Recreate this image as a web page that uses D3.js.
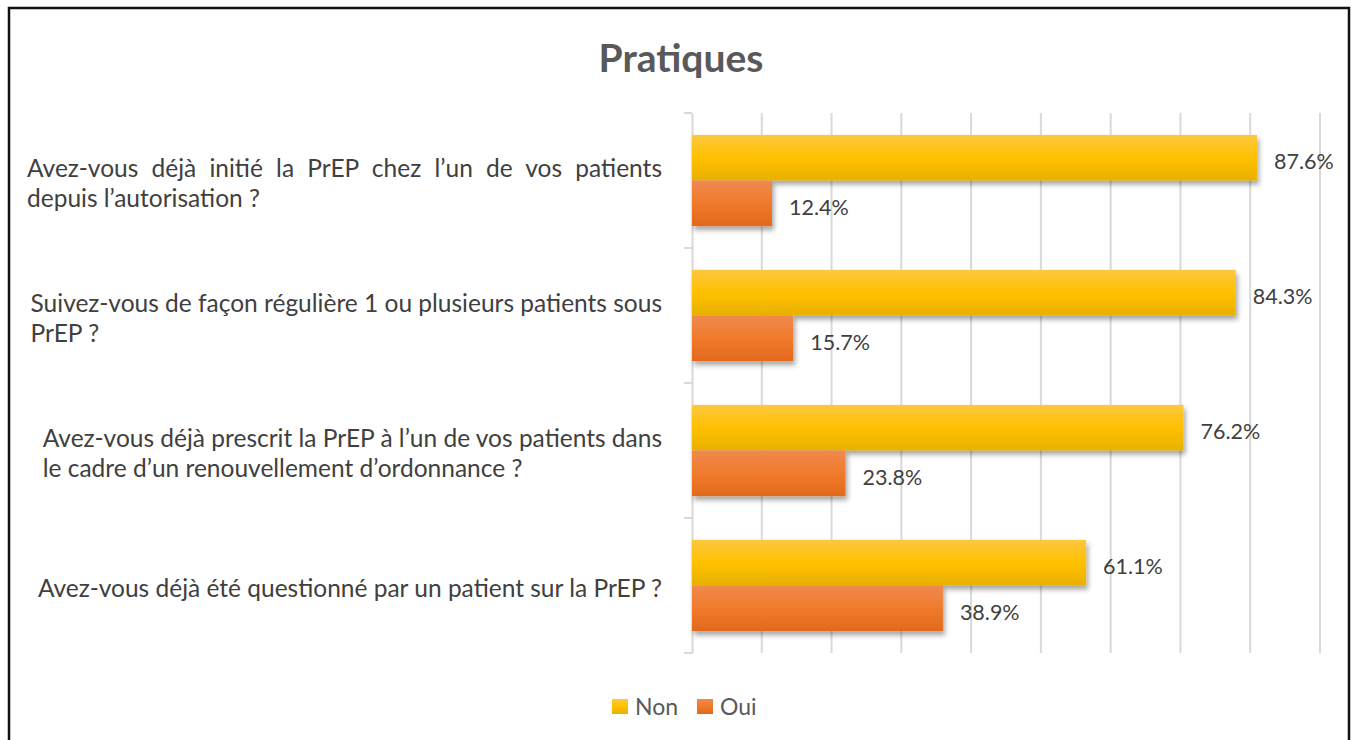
<!DOCTYPE html>
<html>
<head>
<meta charset="utf-8">
<script src="https://cdn.jsdelivr.net/npm/d3@7"></script>
<style>
  body { margin: 0; background: #fff; }
  svg { display: block; }
</style>
</head>
<body>
<svg id="chart"></svg>
<script>
// questions (one entry per line of the wrapped label)
const categories = [
  ["Avez-vous déjà initié la PrEP chez l’un de vos patients", "depuis l’autorisation ?"],
  ["Suivez-vous de façon régulière 1 ou plusieurs patients sous", "PrEP ?"],
  ["Avez-vous déjà prescrit la PrEP à l’un de vos patients dans", "le cadre d’un renouvellement d’ordonnance ?"],
  ["Avez-vous déjà été questionné par un patient sur la PrEP ?"]
];
const justified = [true, false, false, false];
const seriesNames = ["Non", "Oui"];
const nonValues = [0.876, 0.843, 0.762, 0.611];
const ouiValues = [0.124, 0.157, 0.238, 0.389];
const gridCount = 9;

const width = 1356, height = 740;
const font = "Lato, 'Open Sans', sans-serif";
const plot = { left: 692, top: 113, bottom: 653, right: 1320 };
const labelRight = 662, labelWidth = 635;

const colors = {
  Non: ["#fdc83f", "#ffc000", "#e8b000"],
  Oui: ["#f08a4e", "#f07a2c", "#e2691c"]
};

const svg = d3.select("#chart")
  .attr("width", width)
  .attr("height", height);

const defs = svg.append("defs");
seriesNames.forEach(s => {
  const g = defs.append("linearGradient")
    .attr("id", "grad-" + s)
    .attr("x1", 0).attr("y1", 0).attr("x2", 0).attr("y2", 1);
  g.append("stop").attr("offset", "0%").attr("stop-color", colors[s][0]);
  g.append("stop").attr("offset", "50%").attr("stop-color", colors[s][1]);
  g.append("stop").attr("offset", "100%").attr("stop-color", colors[s][2]);
});
defs.append("filter")
  .attr("id", "shadow")
  .attr("x", "-10%").attr("y", "-20%").attr("width", "130%").attr("height", "160%")
  .append("feDropShadow")
  .attr("dx", 2).attr("dy", 4).attr("stdDeviation", 2.5)
  .attr("flood-color", "#000").attr("flood-opacity", 0.35);

// outer frame
svg.append("rect")
  .attr("x", 9).attr("y", 8)
  .attr("width", 1340).attr("height", 800)
  .attr("fill", "none")
  .attr("stroke", "#111")
  .attr("stroke-width", 2.5);

svg.append("text")
  .attr("x", 681).attr("y", 72)
  .attr("text-anchor", "middle")
  .attr("font-family", font)
  .attr("font-weight", "bold")
  .attr("font-size", 39)
  .attr("fill", "#595959")
  .text("Pratiques");

const x = d3.scaleLinear()
  .domain([0, 1])
  .range([plot.left, plot.left + 645]);

const gridX = d3.scaleLinear()
  .domain([0, gridCount])
  .range([plot.left, plot.right]);

const y0 = d3.scaleBand()
  .domain(d3.range(categories.length))
  .range([plot.top, plot.bottom]);

const y1 = d3.scaleBand()
  .domain(seriesNames)
  .range([0, y0.bandwidth()])
  .paddingInner(0)
  .paddingOuter(0.48);

// gridlines
svg.append("g")
  .selectAll("line")
  .data(d3.range(1, gridCount + 1))
  .join("line")
  .attr("x1", d => gridX(d)).attr("x2", d => gridX(d))
  .attr("y1", plot.top).attr("y2", plot.bottom)
  .attr("stroke", "#d9d9d9")
  .attr("stroke-width", 2);

// category axis
svg.append("g")
  .attr("transform", `translate(${plot.left},0)`)
  .call(d3.axisLeft(y0).tickValues([]).tickSizeOuter(0))
  .call(g => g.select(".domain").attr("stroke", "#d9d9d9").attr("stroke-width", 2));

svg.append("g")
  .selectAll("line")
  .data(d3.range(categories.length + 1))
  .join("line")
  .attr("x1", plot.left - 8).attr("x2", plot.left)
  .attr("y1", i => plot.top + i * y0.step())
  .attr("y2", i => plot.top + i * y0.step())
  .attr("stroke", "#d9d9d9")
  .attr("stroke-width", 2);

// bars
const rows = categories.map((c, i) => [
  { i, key: "Non", value: nonValues[i] },
  { i, key: "Oui", value: ouiValues[i] }
]).flat();

svg.append("g")
  .attr("filter", "url(#shadow)")
  .selectAll("rect")
  .data(rows)
  .join("rect")
  .attr("x", x(0))
  .attr("y", d => y0(d.i) + y1(d.key))
  .attr("width", d => x(d.value) - x(0))
  .attr("height", y1.bandwidth())
  .attr("fill", d => `url(#grad-${d.key})`);

svg.append("g")
  .attr("font-family", font)
  .attr("font-size", 21.5)
  .attr("fill", "#404040")
  .selectAll("text")
  .data(rows)
  .join("text")
  .attr("x", d => x(d.value) + 17)
  .attr("y", d => y0(d.i) + y1(d.key) + y1.bandwidth() / 2 + 4)
  .attr("dy", "0.35em")
  .text(d => d3.format(".1%")(d.value));

// question labels
const qLabels = svg.append("g")
  .attr("font-family", font)
  .attr("font-size", 24.5)
  .attr("fill", "#404040");

categories.forEach((lines, i) => {
  const cy = y0(i) + y0.bandwidth() / 2 + 3;
  const t = qLabels.append("text");
  const first = t.append("tspan")
    .attr("text-anchor", "end")
    .attr("x", labelRight)
    .attr("y", cy - (lines.length - 1) * 15)
    .attr("dy", "0.35em")
    .text(lines[0]);
  let w = first.node().getComputedTextLength();
  if (justified[i]) {
    const spaces = lines[0].split(" ").length - 1;
    first.attr("word-spacing", Math.max(0, (labelWidth - w) / spaces));
    w = Math.max(w, labelWidth);
  }
  lines.slice(1).forEach((line, k) => {
    t.append("tspan")
      .attr("x", labelRight - w)
      .attr("y", cy - (lines.length - 1) * 15 + (k + 1) * 30)
      .attr("dy", "0.35em")
      .text(line);
  });
});

// legend
const legend = svg.append("g")
  .attr("transform", "translate(612,699)")
  .attr("font-family", font)
  .attr("font-size", 23)
  .attr("fill", "#595959");

const item = legend.selectAll("g")
  .data(seriesNames)
  .join("g")
  .attr("transform", (d, i) => `translate(${i * 85},0)`);

item.append("rect")
  .attr("width", 16).attr("height", 15)
  .attr("fill", d => `url(#grad-${d})`);

item.append("text")
  .attr("x", 23).attr("y", 8)
  .attr("dy", "0.35em")
  .text(d => d);
</script>
</body>
</html>
